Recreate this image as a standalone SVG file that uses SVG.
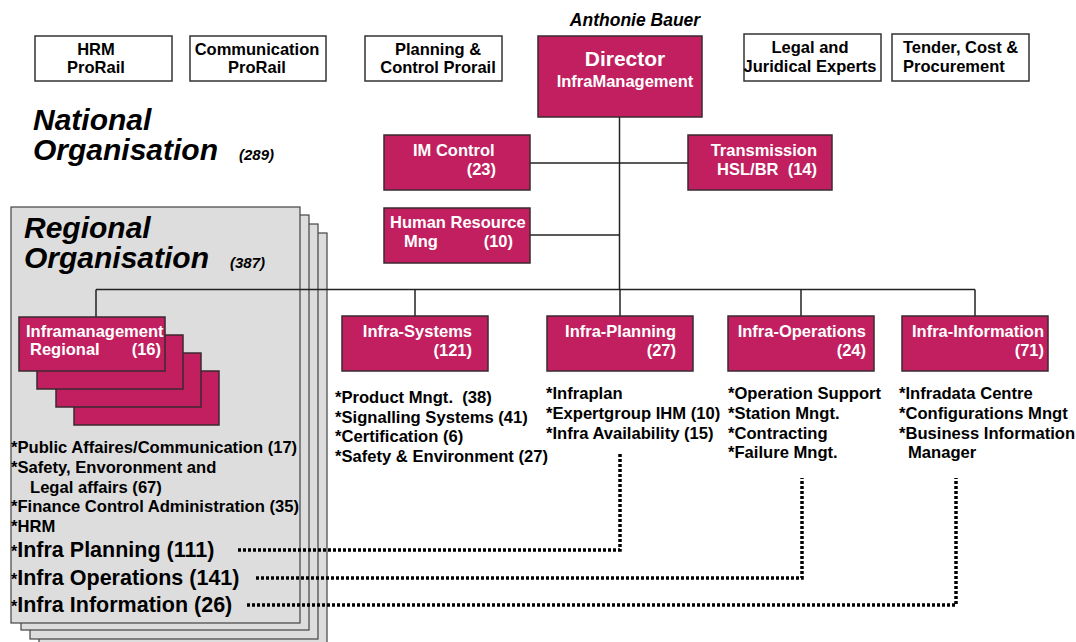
<svg xmlns="http://www.w3.org/2000/svg" width="1076" height="642" viewBox="0 0 1076 642">
  <style>
    text { font-family: "Liberation Sans", Arial, sans-serif; font-weight: bold; }
    .box { fill: #C11F5F; stroke: #3a2a30; stroke-width: 1.5; }
    .wbox { fill: #ffffff; stroke: #333333; stroke-width: 1.5; }
    .page { fill: #DDDDDD; stroke: #444444; stroke-width: 1.2; }
    .wt { fill: #ffffff; font-size: 16.5px; }
    .bt { fill: #000000; font-size: 16.5px; }
    .list { fill: #000000; font-size: 16.6px; }
    .big { fill: #000000; font-size: 21.5px; }
    .title { fill: #000000; font-size: 30px; font-style: italic; }
    .count { fill: #000000; font-size: 15px; font-style: italic; }
    .line { stroke: #222222; stroke-width: 1.5; fill: none; }
    .dots { stroke: #000000; stroke-width: 3.5; stroke-dasharray: 3 2; fill: none; }
  </style>

  <!-- Regional organisation: stack of pages -->
  <g id="regional-pages">
    <rect class="page" x="39" y="233" width="288" height="420"/>
    <rect class="page" x="30" y="224" width="288" height="415"/>
    <rect class="page" x="21" y="215" width="288" height="415"/>
    <rect class="page" x="11" y="207" width="289" height="416"/>
    <text class="title" x="24" y="238">Regional</text>
    <text class="title" x="24" y="268">Organisation</text>
    <text class="count" x="230" y="268">(387)</text>
  </g>

  <!-- Staff boxes along the top -->
  <g id="hrm-prorail">
    <rect class="wbox" x="35" y="36" width="137" height="45"/>
    <text class="bt" x="96" y="55" text-anchor="middle">HRM</text>
    <text class="bt" x="96" y="73" text-anchor="middle">ProRail</text>
  </g>
  <g id="communication-prorail">
    <rect class="wbox" x="190" y="36" width="136" height="45"/>
    <text class="bt" x="257" y="55" text-anchor="middle">Communication</text>
    <text class="bt" x="257" y="73" text-anchor="middle">ProRail</text>
  </g>
  <g id="planning-control">
    <rect class="wbox" x="365" y="36" width="137" height="45"/>
    <text class="bt" x="438" y="55" text-anchor="middle">Planning &amp;</text>
    <text class="bt" x="438" y="73" text-anchor="middle">Control Prorail</text>
  </g>
  <g id="legal-juridical">
    <rect class="wbox" x="744" y="34" width="137" height="47"/>
    <text class="bt" x="810" y="53" text-anchor="middle">Legal and</text>
    <text class="bt" x="810" y="72" text-anchor="middle">Juridical Experts</text>
  </g>
  <g id="tender-cost">
    <rect class="wbox" x="892" y="34" width="137" height="47"/>
    <text class="bt" x="903" y="53">Tender, Cost &amp;</text>
    <text class="bt" x="903" y="72">Procurement</text>
  </g>

  <!-- National organisation heading -->
  <g id="national-heading">
    <text class="title" x="33" y="130">National</text>
    <text class="title" x="33" y="160">Organisation</text>
    <text class="count" x="239" y="160">(289)</text>
  </g>

  <!-- Connectors -->
  <g id="connectors">
    <path class="line" d="M619.5 117 V290"/>
    <path class="line" d="M530 163 H688"/>
    <path class="line" d="M530 235 H620"/>
    <path class="line" d="M96 289.5 H975"/>
    <path class="line" d="M96 289.5 V317"/>
    <path class="line" d="M415 289.5 V316"/>
    <path class="line" d="M620 289.5 V316"/>
    <path class="line" d="M801 289.5 V316"/>
    <path class="line" d="M975 289.5 V316"/>
    <path class="dots" d="M238 550 H620 V453"/>
    <path class="dots" d="M256 578 H802 V478"/>
    <path class="dots" d="M247 605 H956 V478"/>
  </g>

  <!-- Director -->
  <g id="director">
    <text x="635" y="26" text-anchor="middle" style="font-size:17.5px;font-style:italic;fill:#000">Anthonie Bauer</text>
    <rect class="box" x="538" y="36" width="164" height="81"/>
    <text class="wt" x="625" y="66" text-anchor="middle" style="font-size:21px">Director</text>
    <text class="wt" x="625" y="87" text-anchor="middle">InfraManagement</text>
  </g>

  <g id="im-control">
    <rect class="box" x="384" y="135" width="146" height="55"/>
    <text class="wt" x="413" y="156">IM Control</text>
    <text class="wt" x="496" y="175" text-anchor="end">(23)</text>
  </g>
  <g id="transmission">
    <rect class="box" x="688" y="135" width="144" height="55"/>
    <text class="wt" x="817" y="156" text-anchor="end">Transmission</text>
    <text class="wt" x="817" y="175" text-anchor="end" xml:space="preserve">HSL/BR  (14)</text>
  </g>
  <g id="human-resource">
    <rect class="box" x="384" y="208" width="146" height="55"/>
    <text class="wt" x="390" y="228">Human Resource</text>
    <text class="wt" x="404" y="247">Mng</text>
    <text class="wt" x="513" y="247" text-anchor="end">(10)</text>
  </g>

  <!-- Regional infra management stack -->
  <g id="inframanagement-regional">
    <rect class="box" x="74" y="371" width="145" height="54"/>
    <rect class="box" x="56" y="353" width="145" height="54"/>
    <rect class="box" x="37" y="335" width="146" height="54"/>
    <rect class="box" x="19" y="317" width="146" height="54"/>
    <text class="wt" x="26" y="337">Inframanagement</text>
    <text class="wt" x="30" y="355">Regional</text>
    <text class="wt" x="161" y="355" text-anchor="end">(16)</text>
  </g>

  <g id="regional-list">
    <text class="list" x="11" y="453">*Public Affaires/Communication (17)</text>
    <text class="list" x="11" y="473">*Safety, Envoronment and</text>
    <text class="list" x="30" y="493">Legal affairs (67)</text>
    <text class="list" x="11" y="512">*Finance Control Administration (35)</text>
    <text class="list" x="11" y="532">*HRM</text>
    <text class="big" x="11" y="557"><tspan style="font-size:16px">*</tspan>Infra Planning (111)</text>
    <text class="big" x="11" y="585"><tspan style="font-size:16px">*</tspan>Infra Operations (141)</text>
    <text class="big" x="11" y="612"><tspan style="font-size:16px">*</tspan>Infra Information (26)</text>
  </g>

  <!-- Departments -->
  <g id="infra-systems">
    <rect class="box" x="342" y="316" width="146" height="55"/>
    <text class="wt" x="472" y="337" text-anchor="end">Infra-Systems</text>
    <text class="wt" x="472" y="356" text-anchor="end">(121)</text>
    <text class="list" x="335" y="403" xml:space="preserve">*Product Mngt.  (38)</text>
    <text class="list" x="335" y="423">*Signalling Systems (41)</text>
    <text class="list" x="335" y="442">*Certification (6)</text>
    <text class="list" x="335" y="462">*Safety &amp; Environment (27)</text>
  </g>
  <g id="infra-planning">
    <rect class="box" x="547" y="316" width="146" height="55"/>
    <text class="wt" x="676" y="337" text-anchor="end">Infra-Planning</text>
    <text class="wt" x="676" y="356" text-anchor="end">(27)</text>
    <text class="list" x="546" y="399">*Infraplan</text>
    <text class="list" x="546" y="419">*Expertgroup IHM (10)</text>
    <text class="list" x="546" y="439">*Infra Availability (15)</text>
  </g>
  <g id="infra-operations">
    <rect class="box" x="728" y="316" width="146" height="55"/>
    <text class="wt" x="866" y="337" text-anchor="end">Infra-Operations</text>
    <text class="wt" x="866" y="356" text-anchor="end">(24)</text>
    <text class="list" x="728" y="399">*Operation Support</text>
    <text class="list" x="728" y="419">*Station Mngt.</text>
    <text class="list" x="728" y="439">*Contracting</text>
    <text class="list" x="728" y="458">*Failure Mngt.</text>
  </g>
  <g id="infra-information">
    <rect class="box" x="902" y="316" width="146" height="55"/>
    <text class="wt" x="1044" y="337" text-anchor="end">Infra-Information</text>
    <text class="wt" x="1044" y="356" text-anchor="end">(71)</text>
    <text class="list" x="899" y="399">*Infradata Centre</text>
    <text class="list" x="899" y="419">*Configurations Mngt</text>
    <text class="list" x="899" y="439">*Business Information</text>
    <text class="list" x="908" y="458">Manager</text>
  </g>
</svg>
